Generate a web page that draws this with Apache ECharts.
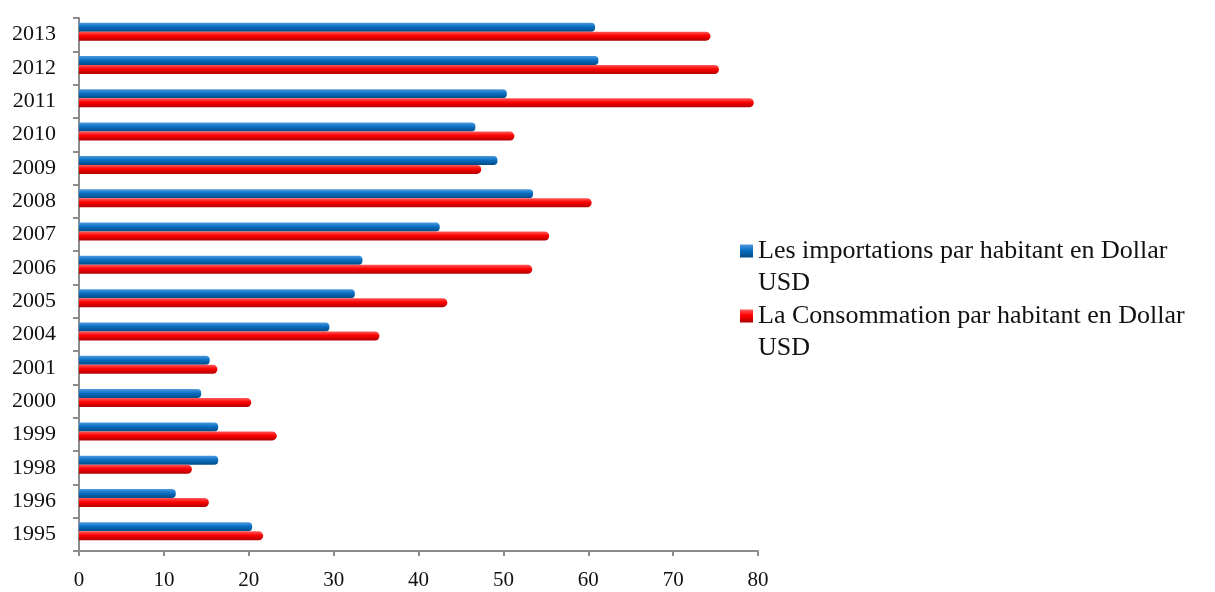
<!DOCTYPE html>
<html><head><meta charset="utf-8">
<script src="https://cdn.jsdelivr.net/npm/echarts@6/dist/echarts.min.js"></script>
<style>html,body{margin:0;padding:0;background:#fff}#c{width:1215px;height:592px}</style>
</head><body><div id="c"></div>
<script>
var years = ['1995','1996','1998','1999','2000','2001','2004','2005','2006','2007','2008','2009','2010','2011','2012','2013'];
var importations = [20.4, 11.4, 16.4, 16.4, 14.4, 15.4, 29.5, 32.5, 33.4, 42.5, 53.5, 49.3, 46.7, 50.4, 61.2, 60.8];
var consommation = [21.7, 15.3, 13.3, 23.3, 20.3, 16.3, 35.4, 43.4, 53.4, 55.4, 60.4, 47.4, 51.3, 79.5, 75.4, 74.4];
var xTicks = [0, 10, 20, 30, 40, 50, 60, 70, 80];
var nameImp = 'Les importations par habitant en Dollar USD';
var nameCons = 'La Consommation par habitant en Dollar USD';

var font = 'Liberation Serif, Times New Roman, serif';
var chart = echarts.init(document.getElementById('c'));
function grad(a, b, c) {
  return new echarts.graphic.LinearGradient(0, 0, 0, 1, [
    {offset: 0, color: a}, {offset: 0.45, color: b}, {offset: 1, color: c}]);
}
chart.setOption({
  animation: false,
  grid: {left: 79, right: 457, top: 18, bottom: 41, containLabel: false},
  legend: {
    orient: 'vertical', left: 735, top: 198,
    data: [nameImp, nameCons],
    icon: 'rect', itemWidth: 13, itemHeight: 13, itemGap: -31,
    formatter: function (n) { return ' \n' + n.replace(' USD', '\nUSD'); },
    textStyle: {fontFamily: font, fontSize: 26, color: '#111', lineHeight: 32}
  },
  xAxis: {
    type: 'value', min: xTicks[0], max: xTicks[xTicks.length - 1], interval: 10,
    splitLine: {show: false},
    axisLine: {show: true, lineStyle: {color: '#8c8c8c', width: 2}},
    axisTick: {show: true, length: 5, lineStyle: {color: '#8c8c8c', width: 2}},
    axisLabel: {fontFamily: font, fontSize: 21, color: '#111', margin: 19}
  },
  yAxis: {
    type: 'category', data: years,
    axisLine: {lineStyle: {color: '#8c8c8c', width: 2}},
    axisTick: {show: true, length: 6, lineStyle: {color: '#8c8c8c', width: 2}},
    axisLabel: {fontFamily: font, fontSize: 22, color: '#111', margin: 23}
  },
  series: [
    {name: nameImp, type: 'bar', data: importations, barWidth: 9, barGap: '0%',
     itemStyle: {color: grad('#4d9ae0', '#0a6fc2', '#034a86'), borderRadius: [0, 4, 4, 0]}},
    {name: nameCons, type: 'bar', data: consommation, barWidth: 9, barGap: '0%',
     itemStyle: {color: grad('#ff5a5a', '#ff0000', '#b00000'), borderRadius: [0, 5, 5, 0]}},
    {name: 'spacer', type: 'bar', data: [], barWidth: 6, barGap: '0%', silent: true}
  ]
});
</script></body></html>
